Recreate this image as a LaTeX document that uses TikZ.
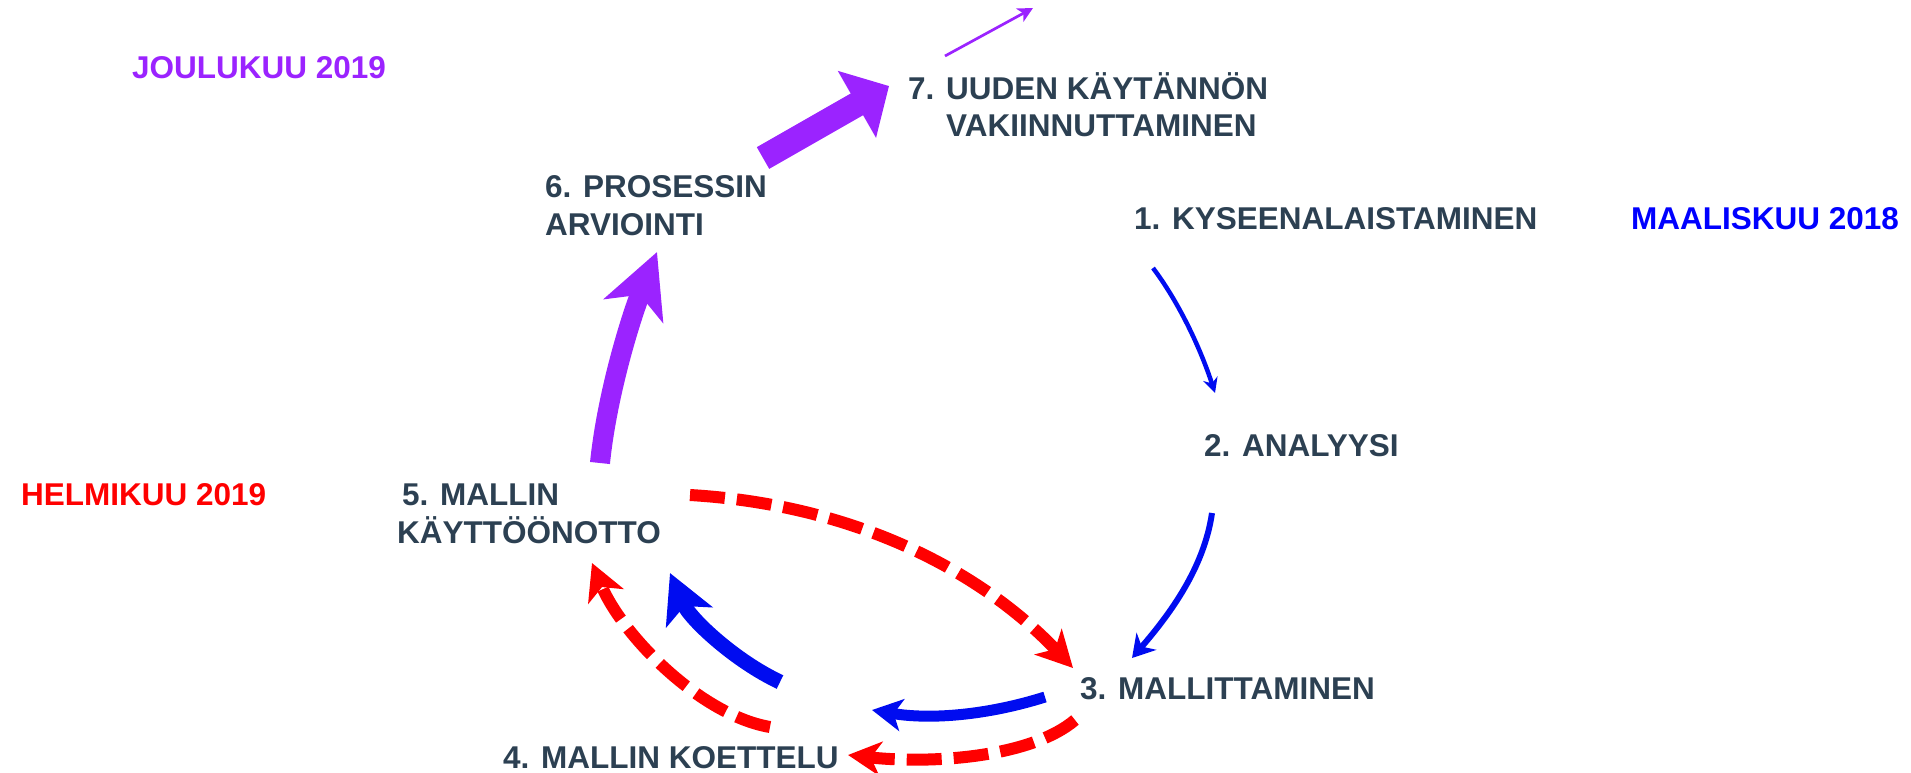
\documentclass[tikz,border=0pt]{standalone}
\usepackage{fontspec}
\setmainfont{Liberation Sans}
\usetikzlibrary{arrows.meta}
\definecolor{txt}{RGB}{44,64,82}
\definecolor{pur}{RGB}{155,35,255}
\definecolor{blu}{RGB}{0,12,240}
\definecolor{rd}{RGB}{255,0,0}
\begin{document}
\begin{tikzpicture}[x=1pt,y=-1pt,
  lbl/.style={anchor=base west, inner sep=0pt, font=\fontsize{31.5}{38}\selectfont\bfseries, text=txt},
  conn/.style={line cap=butt, line join=round},
  reddash/.style={conn, draw=rd, line width=12pt, dash pattern=on 35pt off 12pt},
  bluearrow/.style={conn, draw=blu},
  purarrow/.style={conn, draw=pur},
]
\useasboundingbox (0,0) rectangle (1911,773);

% labels
\node[lbl, text=pur] (jl) at (132,79) {JOULUKUU 2019};
\node[lbl] (n7) at (908,100) {7. UUDEN KÄYTÄNNÖN};
\node[lbl] (n7b) at (946,137) {VAKIINNUTTAMINEN};
\node[lbl] (n6) at (545,197) {6. PROSESSIN};
\node[lbl] (n6b) at (545,235) {ARVIOINTI};
\node[lbl] (n1) at (1134,229) {1. KYSEENALAISTAMINEN};
\node[lbl, text=blue] (ma) at (1631,229) {MAALISKUU 2018};
\node[lbl] (n2) at (1204,456) {2. ANALYYSI};
\node[lbl, text=rd] (hel) at (21,505) {HELMIKUU 2019};
\node[lbl] (n5) at (402,505) {5. MALLIN};
\node[lbl] (n5b) at (397,543) {KÄYTTÖÖNOTTO};
\node[lbl] (n3) at (1080,699) {3. MALLITTAMINEN};
\node[lbl] (n4) at (503,768) {4. MALLIN KOETTELU};
\coordinate (top) at (1033,8);

% 1 -> 2
\draw[bluearrow, line width=4.5pt, -{Stealth[length=15pt,width=15pt,inset=5pt]}]
  ([shift={(19,39)}]n1.base west) .. controls (1180,304) and (1201,350) .. ([shift={(11,-63)}]n2.base west);
% 2 -> 3
\draw[bluearrow, line width=6pt, -{Stealth[length=22pt,width=26pt,inset=7pt]}]
  ([shift={(8,57)}]n2.base west) .. controls (1204,568) and (1170,614) .. ([shift={(52,-41)}]n3.base west);
% 5 -> 3 (red dashed)
\draw[reddash, -{Stealth[length=36pt,width=37pt,inset=10pt]}]
  ([shift={(288,-10)}]n5.base west) .. controls (860,505) and (985,575) .. ([shift={(-7,-31)}]n3.base west);
% 3 -> 4 (blue)
\draw[bluearrow, line width=11pt, -{Stealth[length=30pt,width=32pt,inset=8pt]}]
  ([shift={(-35,-2)}]n3.base west) .. controls (988,715) and (931,720) .. ([shift={(369,-58)}]n4.base west);
% 3 -> 4 (red dashed)
\draw[reddash, -{Stealth[length=33pt,width=34pt,inset=10pt]}]
  ([shift={(-5,21)}]n3.base west) .. controls (1030,758) and (930,764) .. ([shift={(345,-13)}]n4.base west);
% 4 -> 5 (red dashed)
\draw[reddash, -{Stealth[length=36pt,width=38pt,inset=10pt]}]
  ([shift={(267,-41)}]n4.base west) .. controls (700,715) and (622,635) .. ([shift={(195,20)}]n5b.base west);
% 4 -> 5 (blue)
\draw[bluearrow, line width=15pt, -{Stealth[length=48pt,width=50pt,inset=12pt]}]
  ([shift={(277,-86)}]n4.base west) .. controls (735,661) and (690,619) .. ([shift={(273,30)}]n5b.base west);
% 5 -> 6 (purple)
\draw[purarrow, line width=20pt, -{Stealth[length=63pt,width=63pt,inset=17pt]}]
  ([shift={(198,-42)}]n5.base west) .. controls (607,394) and (631,317) .. ([shift={(112,17)}]n6b.base west);
% 6 -> 7 (purple)
\draw[purarrow, line width=25pt, -{Triangle[length=37pt,width=75pt]}]
  ([shift={(218,-39)}]n6.base west) -- ([shift={(-19,-14)}]n7.base west);
% 7 -> onward (purple thin)
\draw[purarrow, line width=2.7pt, -{Stealth[length=15pt,width=15pt,inset=4pt]}]
  ([shift={(37,-44)}]n7.base west) -- (top);
\end{tikzpicture}
\end{document}
